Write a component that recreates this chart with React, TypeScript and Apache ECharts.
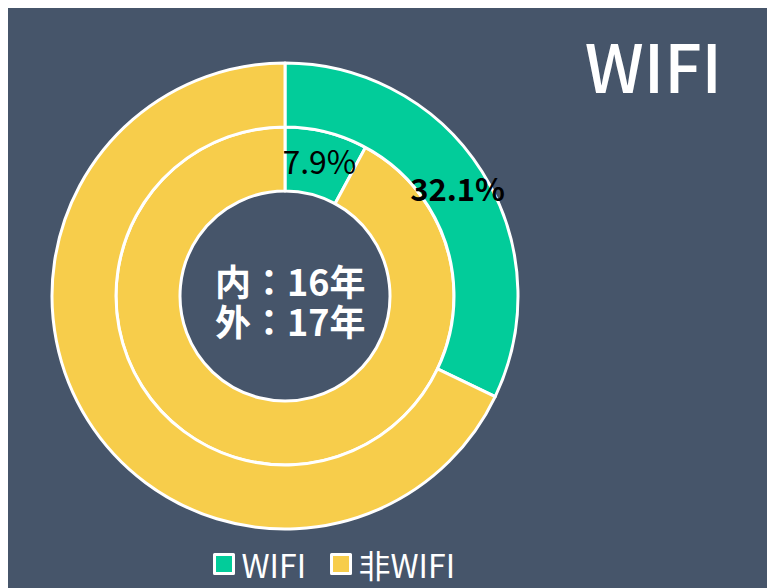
import React, { useEffect, useRef } from "react";
import * as echarts from "echarts";

const categories = ["WIFI", "非WIFI"];
const inner16 = [7.9, 92.1];
const outer17 = [32.1, 67.9];
const colors = ["#02CC9A", "#F7CD4B"];
const titleText = "WIFI";
const centerLines = ["内：16年", "外：17年"];

export default function App() {
  const ref = useRef<HTMLDivElement>(null);
  useEffect(() => {
    const chart = echarts.init(ref.current!, null, { renderer: "svg" });
    const font = "'Microsoft YaHei', 'Noto Sans CJK SC', sans-serif";
    const fontTC = "'Microsoft YaHei', 'Noto Sans CJK TC', sans-serif";
    chart.setOption({
      animation: false,
      backgroundColor: "#46556A",
      color: colors,
      title: {
        text: titleText,
        right: 40,
        top: 18,
        textStyle: { color: "#fff", fontSize: 66, fontWeight: 500, fontFamily: font },
      },
      legend: {
        data: categories,
        left: 200,
        bottom: 3,
        itemWidth: 19,
        itemHeight: 19,
        itemGap: 24,
        icon: "rect",
        itemStyle: { borderColor: "#fff", borderWidth: 3, borderJoin: "round" },
        textStyle: { color: "#fff", fontSize: 32, fontFamily: font, padding: [0, 0, 0, 3] },
      },
      graphic: centerLines.map((t, i) => ({
        type: "text",
        left: 207,
        top: 254 + i * 40,
        style: {
          text: t,
          fill: "#fff",
          font: `bold 36px ${fontTC}`,
          textAlign: "left",
        },
      })),
      series: [
        {
          type: "pie",
          center: [277, 288],
          radius: [105, 169],
          startAngle: 90,
          clockwise: true,
          itemStyle: { borderColor: "#fff", borderWidth: 3 },
          label: {
            position: "inside",
            formatter: (p: any) => (p.dataIndex === 0 ? p.value + "%" : ""),
            color: "#000",
            fontSize: 32,
            fontFamily: font,
          },
          labelLine: { show: false },
          emphasis: { disabled: true },
          data: categories.map((c, i) => ({ name: c, value: inner16[i] })),
        },
        {
          type: "pie",
          center: [277, 288],
          radius: [169, 233],
          startAngle: 90,
          clockwise: true,
          itemStyle: { borderColor: "#fff", borderWidth: 3 },
          label: {
            position: "inside",
            formatter: (p: any) => (p.dataIndex === 0 ? p.value + "%" : ""),
            color: "#000",
            fontSize: 31,
            fontWeight: "bold",
            fontFamily: font,
          },
          labelLine: { show: false },
          emphasis: { disabled: true },
          data: categories.map((c, i) => ({ name: c, value: outer17[i] })),
        },
      ],
    });
    return () => chart.dispose();
  }, []);
  return (
    <div
      ref={ref}
      style={{ position: "absolute", left: 8, top: 8, width: 759, height: 580 }}
    />
  );
}
